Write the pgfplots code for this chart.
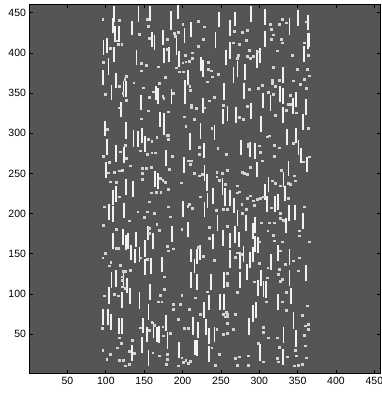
\documentclass[border=0pt]{standalone}
\usepackage{fontspec}
\setmainfont{Liberation Sans}
\usepackage{pgfplots}
\pgfplotsset{compat=1.18}
\definecolor{bg}{HTML}{555555}
\definecolor{dashc}{HTML}{F2F2F2}
\definecolor{dotc}{HTML}{D4D4D4}
\pgfplotstableread{
x y h
111 438 20
142.5 439 19.5
158 440 18
194 442 18
185 429 23
247 432 19
109.5 424.5 19
112 414 19
117.5 414 19
134 422 18
174 410 19
160 408 18
163.5 404 19
202.5 412 19
211.5 419.5 19.5
243 406 20
101 400 18.5
97 397.5 19
111 389 19
140 385 19
176 387 19
182.5 389 19
192 397.5 21
195.5 383 19
224 377 18.5
227 370.5 21
257 385 19
103.5 372.5 21
96 360 19
113 356 19.5
123 345.5 19
126.5 345.5 19
107.5 341.5 19
146 329 19
165 341.5 17.5
168.5 337 19
185.5 336.5 19
203 337 29
207.5 360 19
226.5 325 18.5
254 341.5 21
120 320.5 19
171 308 19
176 298 27
252.5 311 19
258.5 315 19
99 297 18.5
126 293.5 20
136 283 21
141.5 283 20
147 287.5 19
151 277 19
223.5 293.5 19
241.5 291.5 19
210 279 21
268.5 433 18.5
289.5 439 19.5
307.5 435 19.5
339.5 423 20
350.5 433.5 20
364 428 19.5
262 421 20
307.5 408 19
363 404.5 20
365 407 18.5
358.5 389 19.5
300.5 387 19
297.5 381 23
262 393 21
266.5 362 21
271.5 370 19.5
281.5 366.5 20
331 363 20
280.5 342.5 20.5
304.5 331 19.5
314.5 328 19.5
326.5 339.5 19.5
331 336.5 19.5
348 332.5 19.5
361 323 20
344 324 19.5
331 313 20
270 312.5 20
289 317.5 20
302 301 20
357 304 20
336 285.5 19.5
348 287.5 19.5
102 273 20.5
113.5 264.5 21
124 262.5 21
178.5 259.5 19.5
202 250 21
227.5 269 19.5
100.5 244.5 20
164 233.5 20
168.5 230 20
228.5 241 19.5
231.5 228.5 20.5
126 223 20.5
135 221 20
113.5 215 19.5
109 210.5 19
252 223 21
255.5 209.5 22
239.5 212 19.5
232.5 206.5 19.5
104.5 192 20
109 190 19.5
124 194 19
200.5 195.5 20.5
228.5 195.5 19.5
245.5 178.5 19.5
207 170.5 19.5
186 165 20
154.5 167 18
161 156.5 19
122 161 20
128.5 156.5 19.5
126.5 154.5 19
109 155.5 20
139.5 159 18.5
252.5 160 19.5
239.5 155.5 19
151 146.5 20.5
132.5 142 19
137.5 138 18.5
144 140 19
151 123.5 20.5
159 124.5 20
173 127.5 19
211 140 16.5
215.5 125.5 18.5
218.5 137 18.5
223 142 19
276 273 18.5
288 270 19.5
294.5 268 19.5
351 273 18.5
354.5 262.5 19
362 251.5 19.5
297 245 19.5
338 247 19
331.5 232.5 19.5
312 226.5 19.5
307.5 217 19.5
333.5 215.5 18.5
262 210 19.5
267 201 19
310.5 202.5 19.5
320.5 202.5 19.5
324 204.5 20
339 191 19.5
347 192 18.5
271.5 185 19.5
283 178.5 19.5
294.5 175.5 20
356.5 181 19.5
335 176 19
268.5 164 20.5
274 159 18.5
291.5 168 20
294.5 152.5 19.5
298 151.5 19
262 157 19
262 132.5 22
275 131 21.5
279.5 140 19.5
288 132.5 20
291.5 140 19
315 129.5 20
324 141 20
339.5 136 19.5
107.5 107 20
113.5 109 20.5
123 107.5 20
128 100.5 19.5
104.5 88 21
121 82 20.5
131.5 88 19
144 81 21.5
157.5 92.5 19.5
211 107 20
218.5 105 19.5
234 80 18.5
237 105 19.5
253.5 107 20
249 80 19.5
253.5 80 19.5
227.5 70.5 19
155.5 67.5 19.5
96 61 20
102.5 61 20
107 55 19.5
117.5 49.5 21
121 49.5 21
148 51 19.5
153.5 39.5 19.5
162 44.5 21
166.5 39.5 19.5
169.5 38.5 21
178 54 20
180.5 32 20
147 27 19.5
134 16.5 20
155.5 10.5 19.5
195.5 20.5 20
213.5 49 22.5
220.5 44.5 20
216.5 24 18.5
218.5 23 19.5
230.5 49 20
234.5 37 20
241.5 39.5 19.5
234 15.5 20
361 116 20
339.5 110 19.5
275 107 20.5
283.5 117.5 19.5
302.5 110 19.5
298 98 19.5
305.5 96.5 19.5
309 95.5 20.5
341.5 87.5 20
324 80 19.5
295.5 69.5 21
291.5 65.5 20.5
287 49 20.5
344.5 56.5 20.5
331.5 38.5 20
347.5 34 21
300.5 16.5 21
330.5 11.5 20
}\dashtable
\pgfplotstableread{
x y
96 442.3
117.3 441.1
153.4 442.3
155.6 433.6
219.9 439.8
228.1 432.8
200.3 436.1
143.8 423.7
156.9 418.3
179.5 417
189.5 424.5
189.9 421.2
194.2 425.7
115.6 411.2
120.8 410.8
113.4 415.4
105.6 405.8
96.9 388.4
220.7 408.7
227.3 417
146 387.1
152.1 385.1
145.6 378
168.6 383
180.3 404.6
203.4 397.5
212.1 400.4
208.6 390
204.2 389.2
200.3 388
212.1 393.4
232.9 388.4
232.9 380.1
237.7 378
246 373.8
239 370.5
232.5 364.3
191.6 381.7
195.5 376.8
201.2 376.8
169.5 362.2
177.7 369.7
126.4 371.4
124.7 367.2
136.4 363.1
148.2 356.8
162.1 351.8
209.9 353.9
209.4 358.9
174.2 346.5
156.9 344.8
175.5 343.5
188.1 349.8
117.7 358.9
122.1 349.8
99.1 348.9
126.4 341.5
241.2 344.8
235.1 340.6
211.2 335.2
211.6 332.3
217.7 331.1
228.6 331.9
252.5 335.2
154.7 328.2
180.8 326.9
145.6 318.2
117.7 331.9
202.5 320.7
215.5 317.4
204.2 309.1
238.1 306.2
102.1 304.9
180.3 297.9
329.5 442.3
314.3 435.7
326 435.7
335.1 437.8
361.2 439
267.3 427.4
277.3 426.2
284.7 428.2
315.1 429.5
317.7 422.8
315.6 417.4
328.6 417.4
329.5 412.9
282.5 416.2
274.3 410.8
265.6 412.9
359 412.9
322.9 402.9
286.9 403.7
273 397.5
270.8 393.4
284.7 396.3
288.2 393.4
291.7 396.3
296.9 401.7
342.5 397.5
364.2 397.5
318.6 382.1
349 380.1
362.9 380.1
364.7 371.8
359 367.6
317.3 366.4
326 366.4
343.8 365.5
316.4 362.2
320.8 358.9
353.4 361
360.8 356
303.4 360.1
298.2 356
286.9 355.2
312.1 351
317.7 348.9
340.3 347.7
337.3 336.5
340.3 336.5
334.7 329
347.7 325.7
320.8 322.8
283.8 334
274.3 319.9
279.5 317.8
364.2 306.2
125.1 285.4
118.6 277.1
96.9 271.7
126.4 268.8
155.6 292.9
159.9 290.4
166.4 295
180.8 297.9
181.6 292.9
144.7 278.4
153.4 274.2
159.9 275.9
164.2 275.9
186 271.7
207.7 265.9
210.8 265.9
209.9 261.3
221.6 282.5
221.6 274.2
245.9 281.3
256.8 274.2
104.7 263.8
131.7 259.7
147.7 256.4
152.1 256.4
159 257.6
182.1 255.5
103.4 251
110.8 251.4
117.3 253.4
121.7 254.3
147.7 250.1
146.9 243.1
215.5 250.1
222.1 247.2
226 249.3
244.6 251.4
244.6 246
251.2 250.1
257.7 254.3
247.3 241.8
255.5 236.9
105.6 239.8
113.4 238.9
170.8 243.9
174.2 241.8
177.3 238.9
181.6 230.2
198.1 238.5
159 226.1
165.6 226.5
171.6 226.5
117.7 221.1
222.9 221.1
156.9 214.9
97.8 208.6
180.8 208.6
209 211.9
206.8 209.5
212.1 206.5
243.8 204.5
252.5 205.3
258.6 205.7
141.6 202.4
154.3 202.4
163.4 200.3
150.3 195.3
183.8 196.2
130.8 191.2
96.9 185.8
166.4 187
156.9 181.6
113.4 180.4
169.9 179.6
199 180.8
235.1 182.9
257.7 184.5
156.9 175.4
235.1 169.2
113.4 156.7
116.4 156.7
179.5 159.6
187.3 156.3
180.8 153.8
219.9 158
227.3 147.2
99.1 150.5
309.8 295.8
312.9 297
285.1 286.7
285.1 283.3
300.3 284.6
301.1 276.3
319.4 285.4
326.3 282.1
319.8 271.7
344.6 287.5
356.8 264.7
365 270.9
303.3 265.9
288.1 257.6
278.1 251.4
280.7 250.1
284.6 248.9
328.5 254.3
345.9 247.2
346.8 241
317.2 241
320.7 237.7
327.2 234.8
337.2 237.7
340.2 236.9
270.7 234.8
270.7 226.1
274.2 227.3
288.1 222.3
284.6 219
291.6 216.1
297.7 217.8
301.1 219
304.6 221.1
277.2 211.9
282.9 205.7
293.7 210.7
278.1 200.3
338.1 219
358.5 208.6
315.5 207.4
327.2 200.3
327.2 194.1
331.6 192
302.4 188.7
313.3 188.7
319.8 188.7
311.1 178.7
318.5 173.3
319.8 166.3
329.4 165
352 178.7
352 172.5
365 165
300.3 165
270.7 151.3
276.4 149.7
327.2 153.8
96 145.1
106.4 139.3
104.3 135.1
118.6 135.9
123 128.5
126 128.5
121.7 121.4
121.7 117.3
121.7 109
125.1 106.9
131.7 129.7
144.7 145.1
153.4 143.4
176 121.4
97.8 97.8
110.8 99.4
116.4 97.8
170.8 98.6
176 106.1
168.6 90.3
172.9 90.3
188.1 87.4
188.1 80.7
199 98.6
196.8 87
208.6 81.2
216.4 95.3
232.5 102.7
241.2 142.2
257.7 125.6
257.7 111
222.9 74.5
252.5 74.5
255.5 71.6
256.4 77
95.6 57.1
144.7 57.9
159.9 64.5
163.4 61.2
156.4 55
174.2 59.2
175.1 47.9
183.8 50.8
193.8 68.7
202.5 57.1
207.7 57.1
244.6 56.3
253.3 50
257.7 50.8
117.3 45.5
119.9 38.4
134.7 42.5
114.3 33
96 30.1
105.6 25.1
130.8 28.8
137.3 25.9
161.2 26.8
169.5 23
179.5 24.7
179.5 18.9
101.2 18.5
117.3 17.6
123 17.6
130.8 12.2
125.1 10.6
178.6 12.2
194.7 10.6
199 20.5
204.2 17.6
201.2 14.7
207.7 13.5
209.9 16.4
238.1 33
247.7 24.7
242.5 11.4
268.5 145.5
300.3 138
311.1 132.6
326.3 131
333.7 136.8
343.7 141.3
352 145.1
351.1 128.9
257.7 125.6
257.7 113.1
293.7 115.2
309.8 120.2
324.2 124.7
327.2 116
330.3 118.5
271.6 101.9
309 90.3
330.3 90.3
335 101.9
334.6 79.9
362 85.3
268.5 74.5
355.5 73.7
257.7 74.5
257.7 71.6
257.7 63.3
359.8 60.4
364.2 62.5
364.2 56.3
265.5 55.8
304.6 58.3
304.6 52.1
257.7 50.8
358.5 48.8
312 45.5
322.9 45.5
299 38.4
325.9 33.4
359.8 35.5
346.8 30.1
348.1 23
335.9 21.8
361.1 20.5
268.5 19.7
273.8 21.8
285.1 23
322.9 19.9
325 15.6
304.6 15.6
270.7 11.4
285.9 11.4
345.5 10.6
351.1 11.4
356.3 12.7
}\dottable
\begin{document}
\begin{tikzpicture}
\begin{axis}[
  width=351pt, height=369.4pt, scale only axis,
  xmin=0.5, xmax=458, ymin=0.5, ymax=460.5,
  axis background/.style={fill=bg},
  axis line style={black, line width=1pt},
  tick align=inside, major tick length=4pt,
  tick style={black, line width=0.7pt},
  xtick={50,100,...,450}, ytick={50,100,...,450},
  ticklabel style={font=\fontsize{10.5}{12}\selectfont},
  /pgf/number format/assume math mode=true,
  axis on top,
]
\addplot[dashc, line width=1.8pt, quiver={u=0, v=\thisrow{h}}] table[x=x, y=y] {\dashtable};
\addplot[dotc, draw=dotc, fill=dotc, only marks, mark=square*, mark size=0.9pt, mark options={solid, draw=dotc, fill=dotc}] table[x=x, y=y] {\dottable};
\coordinate (ll) at (rel axis cs:0,0);
\coordinate (ur) at (rel axis cs:1,1);
\end{axis}
\pgfresetboundingbox
\path[use as bounding box] ([xshift=-29.5pt,yshift=-19.2pt]ll) rectangle ([xshift=0.5pt,yshift=4.4pt]ur);
\end{tikzpicture}
\end{document}
